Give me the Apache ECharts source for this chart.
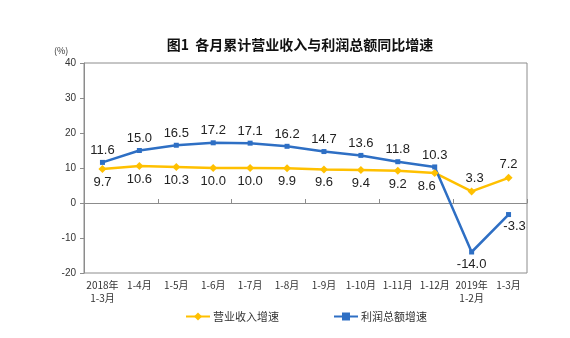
<!DOCTYPE html>
<html>
<head>
<meta charset="utf-8">
<script src="https://cdn.jsdelivr.net/npm/echarts@6/dist/echarts.min.js"></script>
<style>html,body{margin:0;padding:0;background:#fff}#c{width:570px;height:338px}</style>
</head>
<body>
<div id="c"></div>
<script>
var categories = ['2018年\n1-3月','1-4月','1-5月','1-6月','1-7月','1-8月','1-9月','1-10月','1-11月','1-12月','2019年\n1-2月','1-3月'];
var revenueGrowth = [9.7, 10.6, 10.3, 10.0, 10.0, 9.9, 9.6, 9.4, 9.2, 8.6, 3.3, 7.2];
var profitGrowth = [11.6, 15.0, 16.5, 17.2, 17.1, 16.2, 14.7, 13.6, 11.8, 10.3, -14.0, -3.3];
var seriesNames = ['营业收入增速', '利润总额增速'];
var yTicks = {min: -20, max: 40, interval: 10};

var chart = echarts.init(document.getElementById('c'));
var lblFont = {fontFamily: '"Liberation Sans", Arial, sans-serif', fontSize: 13, color: '#222'};

var revData = revenueGrowth.map(function (v, i) {
  var d = {value: v};
  if (i === 9) d.label = {position: 'bottom', offset: [-8, 0]};
  if (i === 10) d.label = {position: 'top', offset: [3, 0]};
  if (i === 11) d.label = {position: 'top', offset: [0, 0]};
  return d;
});
var profData = profitGrowth.map(function (v, i) {
  var d = {value: v};
  if (i === 10) d.label = {position: 'bottom'};
  if (i === 11) d.label = {position: 'bottom', offset: [6, 0]};
  return d;
});

chart.setOption({
  animation: false,
  title: {
    text: '图1  各月累计营业收入与利润总额同比增速',
    left: 295, top: 33, textAlign: 'center',
    textStyle: {fontFamily: '"Noto Sans CJK SC", sans-serif', fontSize: 14, fontWeight: 'bold', color: '#111'}
  },
  graphic: [{
    type: 'text', left: 54, top: 46,
    style: {text: '(%)', font: '9px "Noto Sans CJK SC", sans-serif', fill: '#333'}
  }],
  legend: {
    bottom: 11, left: 180,
    itemWidth: 24, itemHeight: 10, itemGap: 54,
    textStyle: {fontFamily: '"Noto Sans CJK SC", sans-serif', fontSize: 11, color: '#333', padding: [0, 0, 0, -2]},
    data: seriesNames
  },
  grid: {left: 84, right: 43, top: 63, bottom: 65, show: true, borderColor: '#8c8c8c', borderWidth: 1},
  xAxis: [{
    type: 'category', data: categories, position: 'bottom',
    axisLine: {onZero: false, show: false},
    axisTick: {show: false},
    axisLabel: {fontFamily: '"Noto Sans CJK SC", sans-serif', fontSize: 10, color: '#333', lineHeight: 13, margin: 6, interval: 0}
  }, {
    type: 'category', data: categories, position: 'top',
    axisLine: {onZero: true, show: true, lineStyle: {color: '#8c8c8c', width: 1}},
    axisTick: {show: true, length: 4, lineStyle: {color: '#8c8c8c'}},
    axisLabel: {show: false}
  }],
  yAxis: {
    type: 'value', min: yTicks.min, max: yTicks.max, interval: yTicks.interval,
    axisLine: {show: true, lineStyle: {color: '#8c8c8c'}},
    axisTick: {show: true, length: 4, lineStyle: {color: '#8c8c8c'}},
    axisLabel: {fontFamily: '"Liberation Sans", Arial, sans-serif', fontSize: 10, color: '#333', margin: 8},
    splitLine: {show: false}
  },
  series: [{
    name: seriesNames[0], type: 'line', xAxisIndex: 0, data: revData,
    symbol: 'diamond', symbolSize: 8,
    lineStyle: {color: '#FFC000', width: 2.5},
    itemStyle: {color: '#FFC000'},
    label: {show: true, position: 'bottom', distance: 3, formatter: function (p) { return p.value.toFixed(1); }, textStyle: lblFont}
  }, {
    name: seriesNames[1], type: 'line', xAxisIndex: 0, data: profData,
    symbol: 'rect', symbolSize: 5,
    lineStyle: {color: '#2E6FC4', width: 2.5},
    itemStyle: {color: '#2E6FC4'},
    label: {show: true, position: 'top', distance: 3, formatter: function (p) { return p.value.toFixed(1); }, textStyle: lblFont}
  }]
});
</script>
</body>
</html>
